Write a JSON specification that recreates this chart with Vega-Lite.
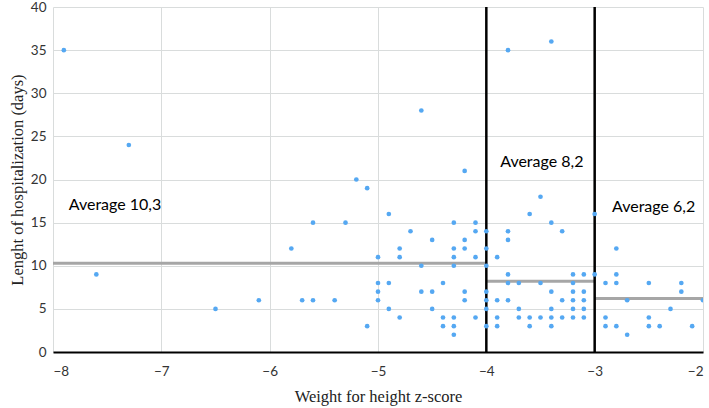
{
  "$schema": "https://vega.github.io/schema/vega-lite/v6.json",
  "width": 650,
  "height": 345,
  "autosize": "none",
  "padding": {"left": 53, "top": 7, "right": 6, "bottom": 56},
  "background": "white",
  "config": {
    "view": {"stroke": null},
    "axis": {
      "gridColor": "#d9dcdc",
      "gridWidth": 1,
      "ticks": false,
      "labelFont": "Lato",
      "labelFontSize": 13.5,
      "labelColor": "#333333",
      "titleFont": "Liberation Serif",
      "titleFontSize": 16.5,
      "titleFontWeight": "normal",
      "titleColor": "#222222"
    }
  },
  "datasets": {
    "dividers": [{"x": -4, "y0": 0, "y1": 40}, {"x": -3, "y0": 0, "y1": 40}],
    "averages": [
      {"x0": -8, "x1": -4, "avg": 10.3},
      {"x0": -4, "x1": -3, "avg": 8.2},
      {"x0": -3, "x1": -2, "avg": 6.2}
    ],
    "labels": [
      {"x": -7.855, "y": 16.5, "label": "Average 10,3"},
      {"x": -3.872, "y": 21.5, "label": "Average 8,2"},
      {"x": -2.84, "y": 16.2, "label": "Average 6,2"}
    ]
  },
  "layer": [
    {
      "data": {"name": "averages"},
      "mark": {"type": "rule", "color": "#a6a6a6", "strokeWidth": 3},
      "encoding": {
        "x": {
          "field": "x0", "type": "quantitative",
          "scale": {"domain": [-8, -2], "nice": false, "zero": false},
          "axis": {
            "values": [-8, -7, -6, -5, -4, -3, -2],
            "format": "d",
            "title": "Weight for height z-score",
            "grid": true,
            "domainColor": "#000000",
            "domainWidth": 2,
            "labelPadding": 12,
            "titlePadding": 11
          }
        },
        "x2": {"field": "x1"},
        "y": {
          "field": "avg", "type": "quantitative",
          "scale": {"domain": [0, 40], "nice": false},
          "axis": {
            "values": [0, 5, 10, 15, 20, 25, 30, 35, 40],
            "format": "d",
            "title": "Lenght of hospitalization (days)",
            "grid": true,
            "domain": false,
            "labelPadding": 7,
            "titlePadding": 5
          }
        }
      }
    },
    {
      "data": {"name": "dividers"},
      "mark": {"type": "rule", "color": "#000000", "strokeWidth": 2.5},
      "encoding": {
        "x": {"field": "x", "type": "quantitative"},
        "y": {"field": "y0", "type": "quantitative"},
        "y2": {"field": "y1"}
      }
    },
    {
      "data": {"name": "labels"},
      "mark": {"type": "text", "font": "Lato", "fontSize": 16, "align": "left", "baseline": "alphabetic", "color": "#000000"},
      "encoding": {
        "x": {"field": "x", "type": "quantitative"},
        "y": {"field": "y", "type": "quantitative"},
        "text": {"field": "label"}
      }
    },
    {
      "data": {
        "values": [
          {"x": -7.9, "y": 35}, {"x": -7.6, "y": 9}, {"x": -7.3, "y": 24}, {"x": -6.5, "y": 5},
          {"x": -6.1, "y": 6}, {"x": -5.8, "y": 12}, {"x": -5.7, "y": 6}, {"x": -5.6, "y": 6},
          {"x": -5.6, "y": 15}, {"x": -5.4, "y": 6}, {"x": -5.3, "y": 15}, {"x": -5.2, "y": 20},
          {"x": -5.1, "y": 19}, {"x": -5.1, "y": 3}, {"x": -4.6, "y": 28}, {"x": -4.2, "y": 21},
          {"x": -3.8, "y": 35}, {"x": -3.4, "y": 36}, {"x": -3.5, "y": 18},
          {"x": -4.9, "y": 16}, {"x": -4.3, "y": 15}, {"x": -4.1, "y": 15}, {"x": -4.7, "y": 14},
          {"x": -4.1, "y": 14}, {"x": -4.5, "y": 13}, {"x": -4.2, "y": 13}, {"x": -4.8, "y": 12},
          {"x": -4.3, "y": 12}, {"x": -4.2, "y": 12}, {"x": -5.0, "y": 11}, {"x": -4.8, "y": 11},
          {"x": -4.3, "y": 11}, {"x": -4.1, "y": 11}, {"x": -4.6, "y": 10}, {"x": -4.3, "y": 10},
          {"x": -5.0, "y": 8}, {"x": -4.9, "y": 8}, {"x": -4.4, "y": 8}, {"x": -5.0, "y": 7},
          {"x": -4.6, "y": 7}, {"x": -4.5, "y": 7}, {"x": -4.2, "y": 7}, {"x": -5.0, "y": 6},
          {"x": -4.2, "y": 6}, {"x": -4.9, "y": 5}, {"x": -4.5, "y": 5}, {"x": -4.8, "y": 4},
          {"x": -4.4, "y": 4}, {"x": -4.3, "y": 4}, {"x": -4.1, "y": 4}, {"x": -4.4, "y": 3},
          {"x": -4.3, "y": 3}, {"x": -4.3, "y": 2},
          {"x": -4.0, "y": 14}, {"x": -4.0, "y": 12}, {"x": -4.0, "y": 10}, {"x": -4.0, "y": 7},
          {"x": -4.0, "y": 6}, {"x": -4.0, "y": 5}, {"x": -4.0, "y": 3},
          {"x": -3.6, "y": 16}, {"x": -3.4, "y": 15}, {"x": -3.8, "y": 14}, {"x": -3.3, "y": 14},
          {"x": -3.8, "y": 13}, {"x": -3.9, "y": 11}, {"x": -3.8, "y": 9}, {"x": -3.2, "y": 9},
          {"x": -3.1, "y": 9}, {"x": -3.8, "y": 8}, {"x": -3.7, "y": 8}, {"x": -3.5, "y": 8},
          {"x": -3.2, "y": 8}, {"x": -3.4, "y": 7}, {"x": -3.2, "y": 7}, {"x": -3.1, "y": 7},
          {"x": -3.9, "y": 6}, {"x": -3.8, "y": 6}, {"x": -3.3, "y": 6}, {"x": -3.2, "y": 6},
          {"x": -3.1, "y": 6}, {"x": -3.7, "y": 5}, {"x": -3.4, "y": 5}, {"x": -3.2, "y": 5},
          {"x": -3.1, "y": 5}, {"x": -3.9, "y": 4}, {"x": -3.7, "y": 4}, {"x": -3.6, "y": 4},
          {"x": -3.5, "y": 4}, {"x": -3.4, "y": 4}, {"x": -3.3, "y": 4}, {"x": -3.2, "y": 4},
          {"x": -3.1, "y": 4}, {"x": -3.9, "y": 3}, {"x": -3.6, "y": 3}, {"x": -3.4, "y": 3},
          {"x": -3.0, "y": 16}, {"x": -3.0, "y": 9},
          {"x": -2.8, "y": 12}, {"x": -2.8, "y": 9}, {"x": -2.9, "y": 8}, {"x": -2.8, "y": 8},
          {"x": -2.5, "y": 8}, {"x": -2.2, "y": 8}, {"x": -2.2, "y": 7}, {"x": -2.7, "y": 6},
          {"x": -2.0, "y": 6}, {"x": -2.3, "y": 5}, {"x": -2.9, "y": 4}, {"x": -2.5, "y": 4},
          {"x": -2.9, "y": 3}, {"x": -2.8, "y": 3}, {"x": -2.5, "y": 3}, {"x": -2.4, "y": 3},
          {"x": -2.1, "y": 3}, {"x": -2.7, "y": 2}
        ]
      },
      "mark": {"type": "point", "filled": true, "opacity": 1, "color": "#55a8f2", "size": 22, "clip": true},
      "encoding": {
        "x": {"field": "x", "type": "quantitative"},
        "y": {"field": "y", "type": "quantitative"}
      }
    }
  ]
}
